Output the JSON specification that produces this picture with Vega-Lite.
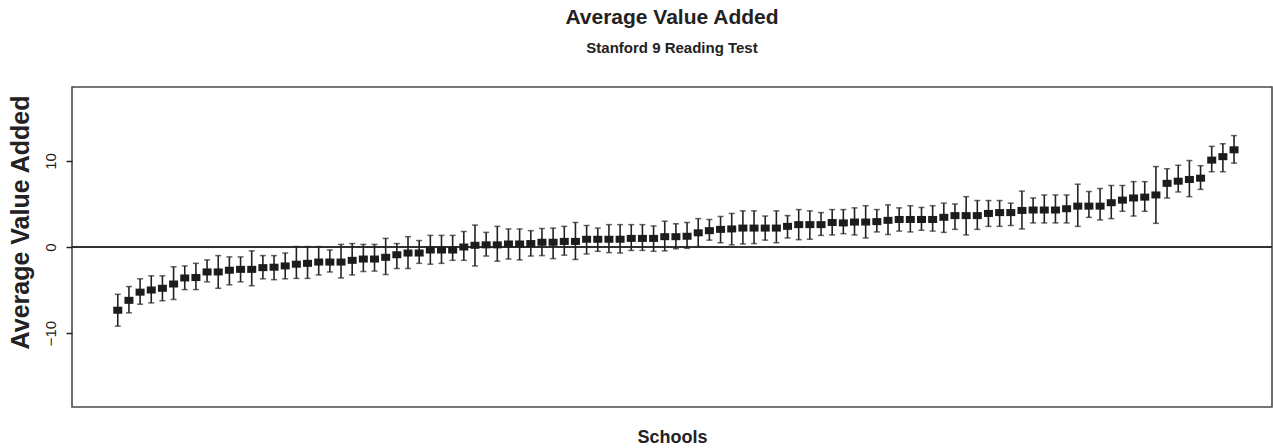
{
  "$schema": "https://vega.github.io/schema/vega-lite/v6.json",
  "width": 1200,
  "height": 320,
  "autosize": {"type": "none"},
  "padding": {"left": 72, "top": 87, "right": 1, "bottom": 41},
  "background": "white",
  "config": {
    "font": "Liberation Sans",
    "view": {"stroke": "#4a4a4a", "strokeWidth": 1.6}
  },
  "title": {
    "text": "Average Value Added",
    "subtitle": "Stanford 9 Reading Test",
    "anchor": "middle",
    "frame": "group",
    "font": "Liberation Sans",
    "fontSize": 21,
    "fontWeight": "bold",
    "color": "#222",
    "subtitleFont": "Liberation Sans",
    "subtitleFontSize": 15,
    "subtitleFontWeight": "bold",
    "subtitleColor": "#222",
    "subtitlePadding": 13,
    "offset": 31
  },
  "data": {
    "values": [
      {"school": 1, "value": -7.35, "lower": -9.2, "upper": -5.5},
      {"school": 2, "value": -6.2, "lower": -7.65, "upper": -4.6},
      {"school": 3, "value": -5.25, "lower": -6.65, "upper": -3.7},
      {"school": 4, "value": -5.0, "lower": -6.5, "upper": -3.35},
      {"school": 5, "value": -4.8, "lower": -6.25, "upper": -3.35},
      {"school": 6, "value": -4.3, "lower": -6.1, "upper": -2.3},
      {"school": 7, "value": -3.6, "lower": -4.95, "upper": -2.2},
      {"school": 8, "value": -3.55, "lower": -4.95, "upper": -1.9},
      {"school": 9, "value": -2.9, "lower": -4.05, "upper": -1.5},
      {"school": 10, "value": -2.9, "lower": -4.8, "upper": -1.0},
      {"school": 11, "value": -2.7, "lower": -4.4, "upper": -1.15},
      {"school": 12, "value": -2.6, "lower": -4.05, "upper": -1.15},
      {"school": 13, "value": -2.6, "lower": -4.5, "upper": -0.45},
      {"school": 14, "value": -2.4, "lower": -3.7, "upper": -1.0},
      {"school": 15, "value": -2.35, "lower": -3.8, "upper": -1.0},
      {"school": 16, "value": -2.2, "lower": -3.7, "upper": -0.7},
      {"school": 17, "value": -2.0, "lower": -3.65, "upper": 0.05},
      {"school": 18, "value": -1.9, "lower": -3.65, "upper": 0.05},
      {"school": 19, "value": -1.75, "lower": -3.25, "upper": 0.05},
      {"school": 20, "value": -1.75, "lower": -2.9, "upper": -0.35},
      {"school": 21, "value": -1.75, "lower": -3.6, "upper": 0.3},
      {"school": 22, "value": -1.55, "lower": -3.25, "upper": 0.4},
      {"school": 23, "value": -1.4, "lower": -2.85, "upper": 0.3},
      {"school": 24, "value": -1.4, "lower": -2.8, "upper": 0.3},
      {"school": 25, "value": -1.2, "lower": -3.2, "upper": 1.0},
      {"school": 26, "value": -0.9, "lower": -2.5, "upper": 0.4},
      {"school": 27, "value": -0.7, "lower": -2.5, "upper": 1.2},
      {"school": 28, "value": -0.7, "lower": -1.9, "upper": 0.75},
      {"school": 29, "value": -0.35, "lower": -2.0, "upper": 1.35},
      {"school": 30, "value": -0.35, "lower": -1.9, "upper": 1.35},
      {"school": 31, "value": -0.35, "lower": -1.55, "upper": 1.35},
      {"school": 32, "value": 0.0, "lower": -1.55, "upper": 1.8},
      {"school": 33, "value": 0.2, "lower": -2.2, "upper": 2.55},
      {"school": 34, "value": 0.25, "lower": -1.05, "upper": 1.7},
      {"school": 35, "value": 0.25, "lower": -1.65, "upper": 2.4},
      {"school": 36, "value": 0.35, "lower": -1.4, "upper": 2.1},
      {"school": 37, "value": 0.35, "lower": -1.5, "upper": 2.1},
      {"school": 38, "value": 0.4, "lower": -1.05, "upper": 1.9},
      {"school": 39, "value": 0.55, "lower": -1.0, "upper": 2.15},
      {"school": 40, "value": 0.55, "lower": -1.35, "upper": 2.2},
      {"school": 41, "value": 0.65, "lower": -0.95, "upper": 2.4},
      {"school": 42, "value": 0.65, "lower": -1.45, "upper": 2.85},
      {"school": 43, "value": 0.9, "lower": -0.8, "upper": 2.5},
      {"school": 44, "value": 0.9, "lower": -0.5, "upper": 2.2},
      {"school": 45, "value": 0.9, "lower": -0.65, "upper": 2.6},
      {"school": 46, "value": 0.9, "lower": -0.7, "upper": 2.6},
      {"school": 47, "value": 1.0, "lower": -0.4, "upper": 2.6},
      {"school": 48, "value": 1.0, "lower": -0.4, "upper": 2.6},
      {"school": 49, "value": 1.0, "lower": -0.5, "upper": 2.45},
      {"school": 50, "value": 1.2, "lower": -0.45, "upper": 3.0},
      {"school": 51, "value": 1.2, "lower": -0.2, "upper": 2.7},
      {"school": 52, "value": 1.25, "lower": -0.15, "upper": 2.85},
      {"school": 53, "value": 1.65, "lower": 0.05, "upper": 3.3},
      {"school": 54, "value": 1.9, "lower": 0.8, "upper": 3.2},
      {"school": 55, "value": 2.05, "lower": 0.5, "upper": 3.55},
      {"school": 56, "value": 2.1, "lower": 0.25, "upper": 3.9},
      {"school": 57, "value": 2.2, "lower": 0.35, "upper": 4.2},
      {"school": 58, "value": 2.2, "lower": 0.4, "upper": 4.2},
      {"school": 59, "value": 2.2, "lower": 0.8, "upper": 3.6},
      {"school": 60, "value": 2.2, "lower": 0.5, "upper": 4.2},
      {"school": 61, "value": 2.4, "lower": 1.05, "upper": 3.65},
      {"school": 62, "value": 2.6, "lower": 0.85, "upper": 4.35},
      {"school": 63, "value": 2.6, "lower": 0.9, "upper": 4.2},
      {"school": 64, "value": 2.6, "lower": 1.35, "upper": 4.0},
      {"school": 65, "value": 2.85, "lower": 1.4, "upper": 4.35},
      {"school": 66, "value": 2.8, "lower": 1.55, "upper": 4.35},
      {"school": 67, "value": 2.9, "lower": 1.4, "upper": 4.55},
      {"school": 68, "value": 2.9, "lower": 1.05, "upper": 4.8},
      {"school": 69, "value": 2.95, "lower": 1.75, "upper": 4.35},
      {"school": 70, "value": 3.1, "lower": 1.45, "upper": 4.9},
      {"school": 71, "value": 3.2, "lower": 1.85, "upper": 4.55},
      {"school": 72, "value": 3.2, "lower": 1.75, "upper": 4.8},
      {"school": 73, "value": 3.2, "lower": 1.95, "upper": 4.6},
      {"school": 74, "value": 3.2, "lower": 1.85, "upper": 4.8},
      {"school": 75, "value": 3.45, "lower": 1.7, "upper": 5.1},
      {"school": 76, "value": 3.65, "lower": 2.05, "upper": 5.0},
      {"school": 77, "value": 3.65, "lower": 1.4, "upper": 5.85},
      {"school": 78, "value": 3.65, "lower": 2.05, "upper": 5.4},
      {"school": 79, "value": 3.9, "lower": 2.4, "upper": 5.4},
      {"school": 80, "value": 4.0, "lower": 2.4, "upper": 5.4},
      {"school": 81, "value": 4.0, "lower": 2.5, "upper": 5.1},
      {"school": 82, "value": 4.25, "lower": 2.1, "upper": 6.5},
      {"school": 83, "value": 4.3, "lower": 2.8, "upper": 5.7},
      {"school": 84, "value": 4.3, "lower": 2.8, "upper": 6.05},
      {"school": 85, "value": 4.3, "lower": 2.8, "upper": 6.05},
      {"school": 86, "value": 4.45, "lower": 2.8, "upper": 6.05},
      {"school": 87, "value": 4.75, "lower": 2.4, "upper": 7.3},
      {"school": 88, "value": 4.75, "lower": 3.45, "upper": 6.45},
      {"school": 89, "value": 4.75, "lower": 3.15, "upper": 6.8},
      {"school": 90, "value": 5.15, "lower": 3.3, "upper": 7.15},
      {"school": 91, "value": 5.45, "lower": 4.15, "upper": 7.15},
      {"school": 92, "value": 5.7, "lower": 3.6, "upper": 7.6},
      {"school": 93, "value": 5.8, "lower": 4.15, "upper": 7.6},
      {"school": 94, "value": 6.05, "lower": 2.75, "upper": 9.35},
      {"school": 95, "value": 7.4, "lower": 5.7, "upper": 9.1},
      {"school": 96, "value": 7.65, "lower": 6.4, "upper": 9.5},
      {"school": 97, "value": 7.85, "lower": 5.85, "upper": 10.05},
      {"school": 98, "value": 8.0, "lower": 6.7, "upper": 9.45},
      {"school": 99, "value": 10.1, "lower": 8.75, "upper": 11.7},
      {"school": 100, "value": 10.5, "lower": 8.75, "upper": 12.0},
      {"school": 101, "value": 11.3, "lower": 9.75, "upper": 12.95}
    ]
  },
  "encoding": {
    "x": {
      "field": "school",
      "type": "quantitative",
      "scale": {"domain": [-3.1, 104.4], "nice": false, "zero": false},
      "axis": {
        "title": "Schools",
        "labels": false,
        "ticks": false,
        "domain": false,
        "grid": false,
        "titleFont": "Liberation Sans",
        "titleFontSize": 18,
        "titleFontWeight": "bold",
        "titleColor": "#222",
        "titlePadding": 21
      }
    }
  },
  "layer": [
    {
      "mark": {"type": "rule", "color": "#333", "strokeWidth": 1.5},
      "encoding": {"x": null, "y": {"datum": 0, "type": "quantitative"}}
    },
    {
      "mark": {"type": "rule", "color": "#222", "strokeWidth": 1.6},
      "encoding": {
        "y": {
          "field": "lower",
          "type": "quantitative",
          "scale": {"domain": [-18.6, 18.6], "nice": false, "zero": false},
          "axis": {
            "title": "Average Value Added",
            "values": [-10, 0, 10],
            "grid": false,
            "domain": false,
            "tickSize": 6,
            "tickColor": "#222",
            "tickWidth": 1.5,
            "labelAngle": -90,
            "labelAlign": "center",
            "labelBaseline": "bottom",
            "labelPadding": 8,
            "labelFont": "Liberation Sans",
            "labelFontSize": 15,
            "labelColor": "#222",
            "titleFont": "Liberation Sans",
            "titleFontSize": 25,
            "titleFontWeight": "bold",
            "titleColor": "#222",
            "titleAngle": -90,
            "titleAlign": "center",
            "titleBaseline": "alphabetic",
            "titleX": -44,
            "titleY": 135
          }
        },
        "y2": {"field": "upper"}
      }
    },
    {
      "mark": {"type": "tick", "orient": "horizontal", "color": "#222", "size": 6, "thickness": 1.5},
      "encoding": {"y": {"field": "upper", "type": "quantitative"}}
    },
    {
      "mark": {"type": "tick", "orient": "horizontal", "color": "#222", "size": 6, "thickness": 1.5},
      "encoding": {"y": {"field": "lower", "type": "quantitative"}}
    },
    {
      "mark": {
        "type": "point",
        "filled": true,
        "color": "#1c1c1c",
        "opacity": 1,
        "shape": "M-1,-0.78L1,-0.78L1,0.78L-1,0.78Z",
        "size": 81
      },
      "encoding": {"y": {"field": "value", "type": "quantitative"}}
    }
  ]
}
